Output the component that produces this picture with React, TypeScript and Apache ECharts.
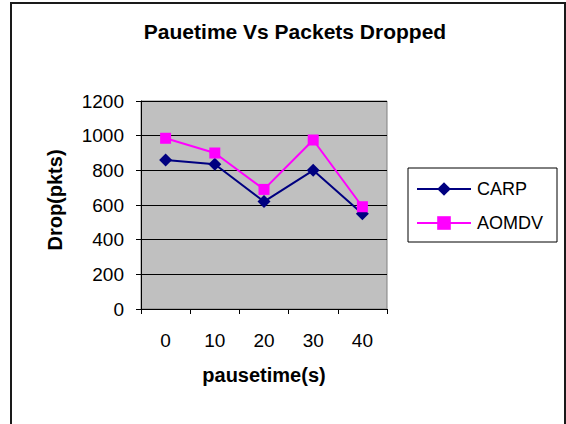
import React, { useEffect, useRef } from "react";
import * as echarts from "echarts";

const categories = ["0", "10", "20", "30", "40"];
const carp = [860, 835, 620, 800, 550];
const aomdv = [985, 900, 690, 975, 590];
const seriesNames = ["CARP", "AOMDV"];
const titleText = "Pauetime Vs Packets Dropped";
const xName = "pausetime(s)";
const yName = "Drop(pkts)";

const FONT = 'Arial, "Liberation Sans", sans-serif';

export default function App() {
  const ref = useRef<HTMLDivElement>(null);
  useEffect(() => {
    if (!ref.current) return;
    const chart = echarts.init(ref.current, null, { renderer: "svg" });
    chart.setOption({
      animation: false,
      backgroundColor: "#ffffff",
      textStyle: { fontFamily: FONT, color: "#000" },
      title: {
        text: titleText,
        left: 290,
        textAlign: "center",
        top: 16,
        textStyle: { fontFamily: FONT, fontWeight: "bold", fontSize: 21, color: "#000" },
      },
      graphic: [
        {
          type: "rect",
          shape: { x: 11, y: 3, width: 554, height: 440 },
          style: { fill: "none", stroke: "#1a1a1a", lineWidth: 2 },
          silent: true,
        },
      ],
      legend: {
        orient: "vertical",
        left: 408,
        top: 168,
        data: seriesNames,
        itemWidth: 54,
        itemHeight: 17,
        itemGap: 16,
        padding: [12, 14, 10, 8],
        borderColor: "#000",
        borderWidth: 1,
        backgroundColor: "#fff",
        textStyle: { fontFamily: FONT, fontSize: 18, color: "#000", padding: [0, 0, 0, 1] },
      },
      grid: {
        left: 141,
        top: 101,
        right: 179,
        bottom: 115,
        show: true,
        backgroundColor: "#C0C0C0",
        borderColor: "#808080",
        borderWidth: 1,
      },
      xAxis: {
        type: "category",
        data: categories,
        boundaryGap: true,
        name: xName,
        nameLocation: "middle",
        nameGap: 56,
        nameTextStyle: { fontFamily: FONT, fontWeight: "bold", fontSize: 20, color: "#000" },
        axisLine: { lineStyle: { color: "#000", width: 1 } },
        axisTick: { show: true, length: 5, alignWithLabel: false, lineStyle: { color: "#000" } },
        axisLabel: { fontFamily: FONT, fontSize: 19, color: "#000", margin: 22 },
        splitLine: { show: false },
      },
      yAxis: {
        type: "value",
        min: 0,
        max: 1200,
        interval: 200,
        name: yName,
        nameLocation: "middle",
        nameRotate: 90,
        nameGap: 76,
        nameTextStyle: { fontFamily: FONT, fontWeight: "bold", fontSize: 20, color: "#000", padding: [0, 0, 0, 10] },
        axisLine: { show: true, lineStyle: { color: "#000", width: 1 } },
        axisTick: { show: true, length: 5, lineStyle: { color: "#000" } },
        axisLabel: {
          fontFamily: FONT,
          fontSize: 19,
          color: "#000",
          margin: 17,
          formatter: (v: number) => String(v),
        },
        splitLine: { show: true, lineStyle: { color: "#000", width: 1 } },
      },
      series: [
        {
          name: seriesNames[0],
          type: "line",
          data: carp,
          symbol: "diamond",
          symbolSize: 13,
          color: "#000080",
          lineStyle: { color: "#000080", width: 2 },
          itemStyle: { color: "#000080" },
        },
        {
          name: seriesNames[1],
          type: "line",
          data: aomdv,
          symbol: "rect",
          symbolSize: 11,
          color: "#FF00FF",
          lineStyle: { color: "#FF00FF", width: 2 },
          itemStyle: { color: "#FF00FF" },
        },
      ],
    });
    return () => chart.dispose();
  }, []);
  return (
    <div
      ref={ref}
      style={{ position: "fixed", left: 0, top: 0, width: 566, height: 424 }}
    />
  );
}
